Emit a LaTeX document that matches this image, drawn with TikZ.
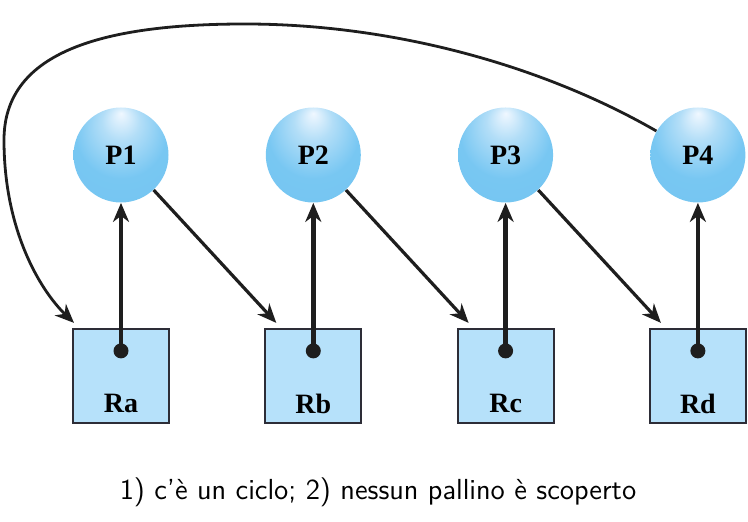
\documentclass[tikz,border=0pt]{standalone}
\usepackage{fontspec}
\newfontfamily\lblfont{Liberation Serif}
\usetikzlibrary{positioning, arrows.meta}

\definecolor{sqfill}{RGB}{182,225,250}
\definecolor{sqline}{RGB}{45,45,55}
\definecolor{arrcol}{RGB}{30,30,30}
\pgfdeclareradialshading{pball}{\pgfpoint{0bp}{22bp}}{rgb(0bp)=(0.94,0.97,1); rgb(10bp)=(0.70,0.87,0.97); rgb(24bp)=(0.47,0.78,0.95); rgb(50bp)=(0.45,0.77,0.94)}

\begin{document}
\begin{tikzpicture}[x=0.5pt,y=-0.5pt]
\tikzset{proc/.style={circle,shading=pball,minimum size=47.5pt,inner sep=0pt,font=\lblfont\bfseries\fontsize{14}{16}\selectfont},
  res/.style={rectangle,draw=sqline,line width=1pt,fill=sqfill,minimum width=48pt,minimum height=47pt},
  dot/.style={circle,fill=arrcol,minimum size=7.5pt,inner sep=0pt},
  lbl/.style={font=\lblfont\bfseries\fontsize{14}{16}\selectfont},
  tip/.style={-{Stealth[length=9.5pt,width=8pt,inset=3pt]},draw=arrcol}}
\useasboundingbox (0,0) rectangle (748,522);

  \node [proc] (p1) at (121,155) {P1};
  \node [proc, right=48.25pt of p1] (p2) {P2};
  \node [proc, right=48.25pt of p2] (p3) {P3};
  \node [proc, right=48.25pt of p3] (p4) {P4};

  \node [res, below=62.5pt of p1] (ra) {};
  \node [res, below=62.5pt of p2] (rb) {};
  \node [res, below=62.5pt of p3] (rc) {};
  \node [res, below=62.5pt of p4] (rd) {};

\foreach \r/\t/\p in {ra/Ra/p1, rb/Rb/p2, rc/Rc/p3, rd/Rd/p4} {
  \node [dot] (\r-dot) at ([yshift=12.5pt]\r.center) {};
  \node [lbl] (\r-lbl) at ([yshift=-14pt]\r.center) {\t};
  \path (\r-dot.center) edge[tip,line width=2.2pt] (\p.south);
}

\path (p1.-47) edge[tip,line width=1.6pt] ([xshift=6pt,yshift=2.5pt]rb.north west);
\path (p2.-47) edge[tip,line width=1.6pt] ([xshift=6pt,yshift=2.5pt]rc.north west);
\path (p3.-47) edge[tip,line width=1.6pt] ([xshift=6pt,yshift=2.5pt]rd.north west);

\draw [tip,line width=1.4pt] (p4.150) .. controls (540,64) and (390,24) .. (245,24) .. controls (95,24) and (4,55) .. (4,140) .. controls (4,230) and (40,290) .. ([xshift=1pt,yshift=2.5pt]ra.north west);

\node [font=\sffamily\fontsize{14.5}{17}\selectfont] (caption) at (378,492) {1) c'è un ciclo; 2) nessun pallino è scoperto};

\end{tikzpicture}
\end{document}
